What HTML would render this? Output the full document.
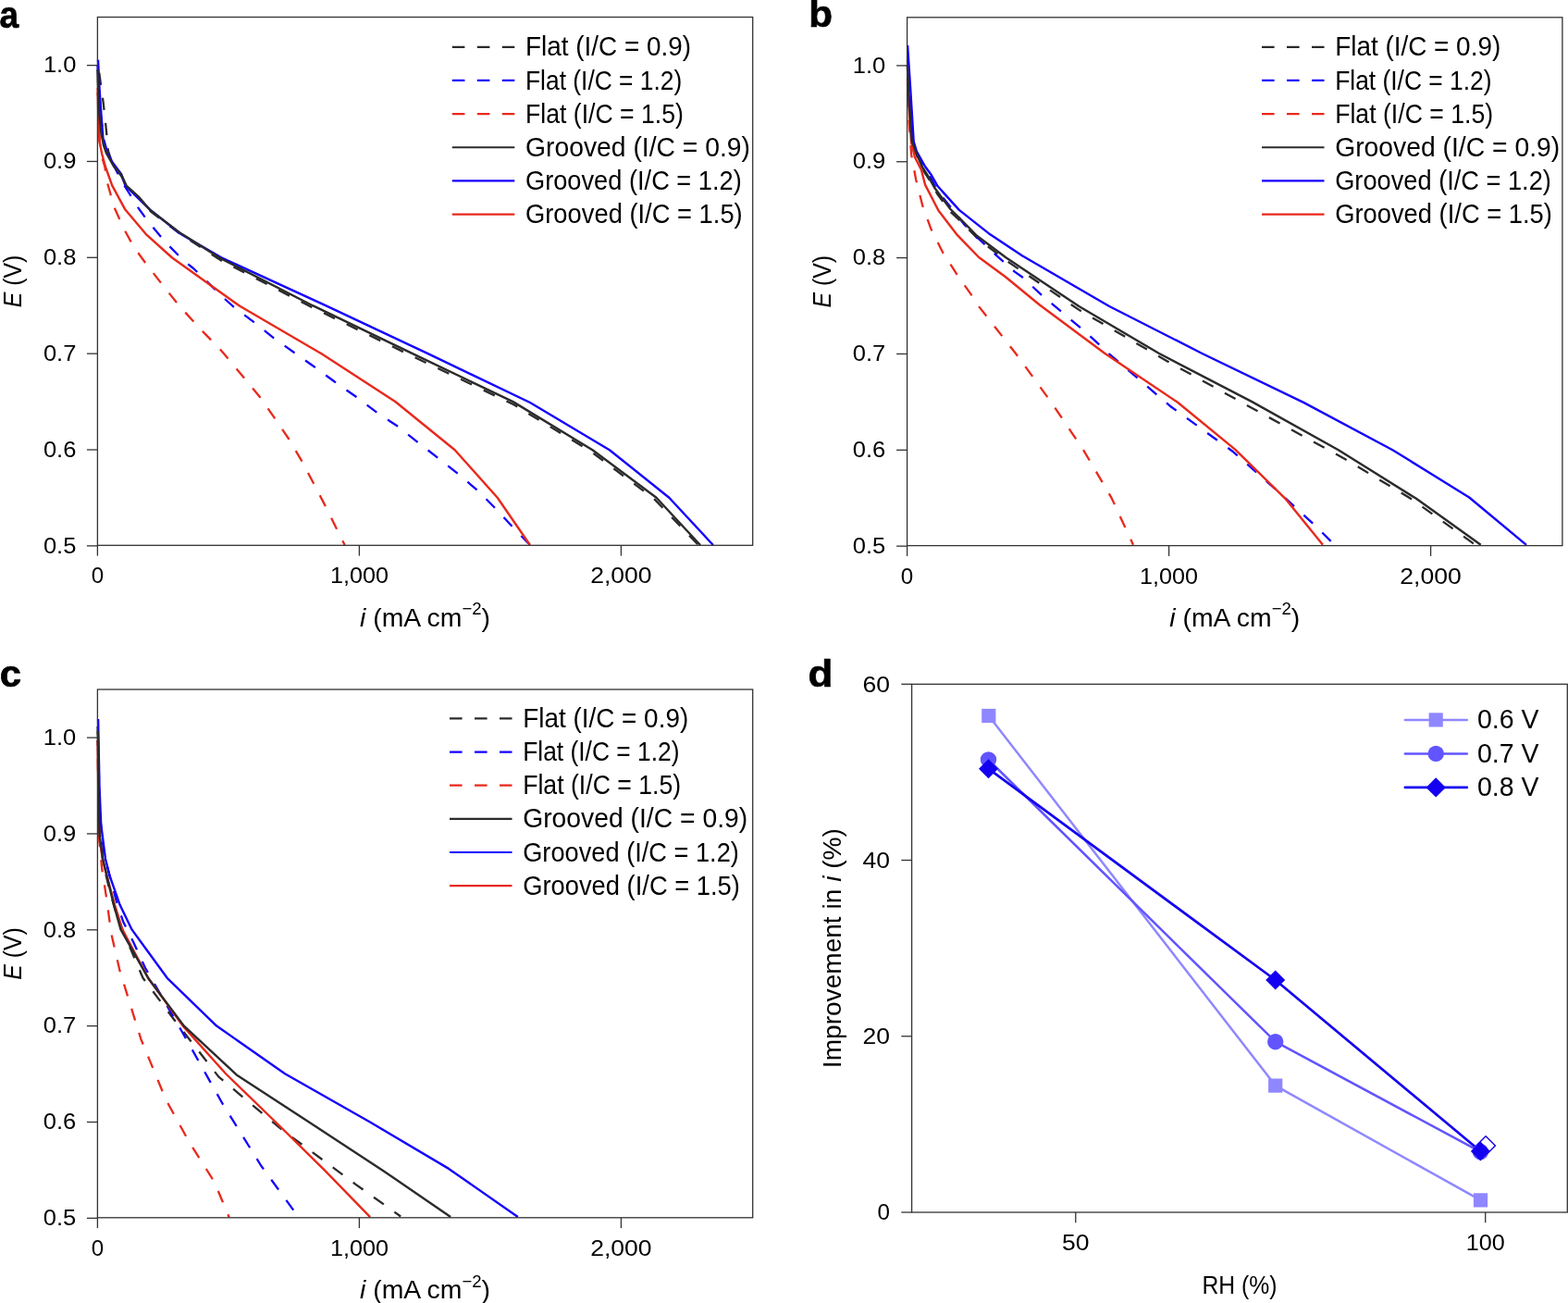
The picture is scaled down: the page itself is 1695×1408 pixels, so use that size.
<!DOCTYPE html>
<html><head><meta charset="utf-8"><title>Figure</title><style>html,body{margin:0;padding:0;background:#fff;}svg{display:block;}</style></head><body>
<svg width="1695" height="1408" viewBox="0 0 1695 1408" font-family="'Liberation Sans', Arial, sans-serif" fill="#000">
<rect width="1695" height="1408" fill="#fff"/>
<polyline points="105.60,66.00 108.50,88.00 111.80,112.00 114.50,137.00 117.00,163.00 122.00,178.00 131.00,190.00 137.00,201.00 150.00,213.50 163.00,228.50 195.00,253.00 240.00,282.00 337.00,332.00 447.00,385.50 555.00,437.00 639.00,488.00 707.00,539.00 755.00,589.00" fill="none" stroke="#2b2b2b" stroke-width="2.3" stroke-linejoin="round" stroke-dasharray="13.3 14.1" stroke-dashoffset="14.67"/>
<polyline points="105.50,70.00 107.00,100.00 109.00,125.00 112.00,150.00 117.00,168.00 125.00,183.00 133.00,198.30 140.10,209.50 147.80,222.40 155.50,233.00 164.30,244.30 173.20,254.90 182.60,265.50 192.00,275.00 202.00,284.40 209.10,290.00 242.30,322.40 251.90,331.00 274.20,347.90 295.40,364.90 317.70,380.80 337.90,395.00 362.10,412.80 385.00,428.80 407.40,445.70 430.40,461.00 451.80,478.00 473.30,494.80 494.80,511.70 516.30,530.00 536.20,550.00 554.60,570.00 573.00,589.00" fill="none" stroke="#1400ff" stroke-width="2.3" stroke-linejoin="round" stroke-dasharray="13.3 14.1" stroke-dashoffset="1.02"/>
<polyline points="105.60,95.00 106.50,130.00 108.00,155.00 110.00,169.00 113.50,181.00 115.30,195.00 119.00,208.00 123.00,223.00 128.30,234.80 134.20,247.80 140.70,259.60 148.40,272.00 156.60,283.20 175.00,307.00 193.50,330.20 218.00,357.00 238.00,377.40 264.00,408.40 281.30,429.60 296.80,451.70 312.30,474.50 326.20,498.20 339.20,522.70 351.50,546.40 363.70,570.90 372.70,589.00" fill="none" stroke="#e8291c" stroke-width="2.3" stroke-linejoin="round" stroke-dasharray="13.3 14.1" stroke-dashoffset="5.15"/>
<polyline points="105.70,100.00 106.50,134.00 107.40,152.30 110.20,166.20 113.90,180.00 121.20,200.40 135.40,226.60 157.80,253.10 186.10,278.50 259.30,330.80 348.00,382.50 427.30,434.00 491.70,486.20 537.70,537.70 573.00,589.00" fill="none" stroke="#e8291c" stroke-width="2.4" stroke-linejoin="round"/>
<polyline points="106.00,64.60 107.50,95.00 109.50,125.00 111.50,150.00 114.50,163.00 122.00,176.00 131.00,188.00 135.40,200.40 147.00,212.00 162.00,226.40 194.40,252.30 239.20,278.30 352.00,330.20 462.60,382.20 573.00,435.00 658.90,486.20 723.30,537.70 770.90,589.00" fill="none" stroke="#1400ff" stroke-width="2.4" stroke-linejoin="round"/>
<polyline points="105.50,75.00 105.80,88.00 107.40,124.60 109.20,143.00 112.00,157.00 115.20,166.00 123.10,180.00 131.40,189.30 136.60,200.60 149.60,212.40 162.50,227.20 194.40,251.40 238.00,279.00 338.00,330.20 446.00,382.20 554.60,434.10 640.50,486.20 709.50,537.70 757.00,589.00" fill="none" stroke="#2b2b2b" stroke-width="2.4" stroke-linejoin="round"/>
<rect x="105.40" y="18.50" width="708.30" height="570.80" fill="none" stroke="#333" stroke-width="1.3"/>
<line x1="93.90" y1="70.60" x2="105.40" y2="70.60" stroke="#333" stroke-width="1.3"/>
<text x="82.40" y="78.30" font-size="24.2" text-anchor="end" textLength="35.50" lengthAdjust="spacingAndGlyphs">1.0</text>
<line x1="93.90" y1="174.45" x2="105.40" y2="174.45" stroke="#333" stroke-width="1.3"/>
<text x="82.40" y="182.15" font-size="24.2" text-anchor="end" textLength="35.50" lengthAdjust="spacingAndGlyphs">0.9</text>
<line x1="93.90" y1="278.30" x2="105.40" y2="278.30" stroke="#333" stroke-width="1.3"/>
<text x="82.40" y="286.00" font-size="24.2" text-anchor="end" textLength="35.50" lengthAdjust="spacingAndGlyphs">0.8</text>
<line x1="93.90" y1="382.15" x2="105.40" y2="382.15" stroke="#333" stroke-width="1.3"/>
<text x="82.40" y="389.85" font-size="24.2" text-anchor="end" textLength="35.50" lengthAdjust="spacingAndGlyphs">0.7</text>
<line x1="93.90" y1="486.00" x2="105.40" y2="486.00" stroke="#333" stroke-width="1.3"/>
<text x="82.40" y="493.70" font-size="24.2" text-anchor="end" textLength="35.50" lengthAdjust="spacingAndGlyphs">0.6</text>
<line x1="93.90" y1="589.85" x2="105.40" y2="589.85" stroke="#333" stroke-width="1.3"/>
<text x="82.40" y="597.55" font-size="24.2" text-anchor="end" textLength="35.50" lengthAdjust="spacingAndGlyphs">0.5</text>
<line x1="105.40" y1="589.30" x2="105.40" y2="600.60" stroke="#333" stroke-width="1.3"/>
<text x="105.40" y="630.30" font-size="24.2" text-anchor="middle">0</text>
<line x1="388.40" y1="589.30" x2="388.40" y2="600.60" stroke="#333" stroke-width="1.3"/>
<text x="388.40" y="630.30" font-size="24.2" text-anchor="middle" textLength="63.00" lengthAdjust="spacingAndGlyphs">1,000</text>
<line x1="671.40" y1="589.30" x2="671.40" y2="600.60" stroke="#333" stroke-width="1.3"/>
<text x="671.40" y="630.30" font-size="24.2" text-anchor="middle" textLength="66.50" lengthAdjust="spacingAndGlyphs">2,000</text>
<text x="459.55" y="676.60" font-size="28.3" text-anchor="middle" textLength="141" lengthAdjust="spacingAndGlyphs"><tspan font-style="italic">i</tspan> (mA cm<tspan dy="-12.4" font-size="18.5">−2</tspan><tspan dy="12.4">)</tspan></text>
<text x="23.40" y="303.90" font-size="28.3" text-anchor="middle" transform="rotate(-90 23.40 303.90)" textLength="56.5" lengthAdjust="spacingAndGlyphs"><tspan font-style="italic">E</tspan> (V)</text>
<line x1="488.80" y1="50.80" x2="556.30" y2="50.80" stroke="#2b2b2b" stroke-width="2.2" stroke-dasharray="13.6 13.4"/>
<text x="568.00" y="60.40" font-size="28.8" textLength="179.00" lengthAdjust="spacingAndGlyphs">Flat (I/C = 0.9)</text>
<line x1="488.80" y1="86.95" x2="556.30" y2="86.95" stroke="#1400ff" stroke-width="2.2" stroke-dasharray="13.6 13.4"/>
<text x="568.00" y="96.55" font-size="28.8" textLength="169.30" lengthAdjust="spacingAndGlyphs">Flat (I/C = 1.2)</text>
<line x1="488.80" y1="123.10" x2="556.30" y2="123.10" stroke="#e8291c" stroke-width="2.2" stroke-dasharray="13.6 13.4"/>
<text x="568.00" y="132.70" font-size="28.8" textLength="170.90" lengthAdjust="spacingAndGlyphs">Flat (I/C = 1.5)</text>
<line x1="488.80" y1="159.25" x2="556.30" y2="159.25" stroke="#2b2b2b" stroke-width="2.2"/>
<text x="568.00" y="168.85" font-size="28.8" textLength="243.00" lengthAdjust="spacingAndGlyphs">Grooved (I/C = 0.9)</text>
<line x1="488.80" y1="195.40" x2="556.30" y2="195.40" stroke="#1400ff" stroke-width="2.2"/>
<text x="568.00" y="205.00" font-size="28.8" textLength="233.70" lengthAdjust="spacingAndGlyphs">Grooved (I/C = 1.2)</text>
<line x1="488.80" y1="231.55" x2="556.30" y2="231.55" stroke="#e8291c" stroke-width="2.2"/>
<text x="568.00" y="241.15" font-size="28.8" textLength="234.70" lengthAdjust="spacingAndGlyphs">Grooved (I/C = 1.5)</text>
<text x="-0.60" y="29.90" font-size="40" font-weight="bold" textLength="20.60" lengthAdjust="spacingAndGlyphs" stroke="#000" stroke-width="0.7">a</text>
<polyline points="980.80,62.00 982.60,104.00 985.50,150.00 990.00,165.00 996.00,181.00 1005.00,195.00 1013.50,210.00 1027.50,229.00 1040.00,240.50 1057.00,258.00 1087.90,281.70 1167.60,335.60 1262.50,390.70 1360.00,444.60 1455.20,496.70 1526.40,539.60 1594.50,588.50" fill="none" stroke="#2b2b2b" stroke-width="2.3" stroke-linejoin="round" stroke-dasharray="13.3 14.1" stroke-dashoffset="13.18"/>
<polyline points="981.00,65.00 983.00,110.00 986.50,150.00 991.00,166.00 998.00,180.00 1005.20,190.20 1011.20,202.20 1019.70,214.10 1027.40,223.50 1042.70,243.00 1056.30,256.70 1066.60,266.10 1076.40,275.40 1086.20,284.00 1096.80,293.60 1104.90,299.30 1127.70,320.40 1171.10,356.70 1199.20,382.50 1264.80,438.70 1332.80,488.00 1381.90,531.30 1423.80,570.00 1442.60,588.80" fill="none" stroke="#1400ff" stroke-width="2.3" stroke-linejoin="round" stroke-dasharray="13.3 14.1" stroke-dashoffset="7.04"/>
<polyline points="981.00,85.00 982.50,130.00 985.20,167.40 990.30,194.70 997.20,222.00 1006.50,247.60 1019.30,273.10 1034.70,297.00 1050.40,319.20 1057.40,330.20 1098.40,382.50 1136.00,434.10 1171.00,486.00 1201.50,537.90 1225.00,588.70" fill="none" stroke="#e8291c" stroke-width="2.3" stroke-linejoin="round" stroke-dasharray="13.3 14.1" stroke-dashoffset="9.96"/>
<polyline points="981.30,73.00 982.50,115.00 985.10,154.00 989.00,170.00 995.90,183.40 1000.10,199.60 1014.60,227.70 1034.20,253.30 1058.10,278.00 1087.00,299.30 1124.20,329.80 1194.50,382.00 1273.00,434.80 1335.10,485.60 1389.20,538.60 1430.00,588.80" fill="none" stroke="#e8291c" stroke-width="2.4" stroke-linejoin="round"/>
<polyline points="981.10,49.00 984.00,93.30 987.70,153.00 990.90,163.70 1000.10,180.00 1006.90,189.30 1013.70,201.30 1036.80,226.90 1069.10,252.40 1104.90,276.30 1199.20,331.00 1300.00,382.20 1409.10,434.90 1505.40,486.20 1588.20,537.50 1650.00,588.80" fill="none" stroke="#1400ff" stroke-width="2.4" stroke-linejoin="round"/>
<polyline points="980.80,70.00 982.40,104.00 985.60,152.00 989.90,163.70 996.70,180.00 1002.70,189.30 1010.30,203.00 1027.40,226.00 1037.60,236.20 1056.30,255.00 1087.00,278.00 1104.90,289.90 1166.40,331.00 1253.10,382.00 1353.40,434.10 1446.80,486.20 1530.60,538.60 1600.70,588.80" fill="none" stroke="#2b2b2b" stroke-width="2.4" stroke-linejoin="round"/>
<rect x="980.60" y="18.80" width="708.30" height="570.80" fill="none" stroke="#333" stroke-width="1.3"/>
<line x1="969.10" y1="70.90" x2="980.60" y2="70.90" stroke="#333" stroke-width="1.3"/>
<text x="957.30" y="78.60" font-size="24.2" text-anchor="end" textLength="35.50" lengthAdjust="spacingAndGlyphs">1.0</text>
<line x1="969.10" y1="174.75" x2="980.60" y2="174.75" stroke="#333" stroke-width="1.3"/>
<text x="957.30" y="182.45" font-size="24.2" text-anchor="end" textLength="35.50" lengthAdjust="spacingAndGlyphs">0.9</text>
<line x1="969.10" y1="278.60" x2="980.60" y2="278.60" stroke="#333" stroke-width="1.3"/>
<text x="957.30" y="286.30" font-size="24.2" text-anchor="end" textLength="35.50" lengthAdjust="spacingAndGlyphs">0.8</text>
<line x1="969.10" y1="382.45" x2="980.60" y2="382.45" stroke="#333" stroke-width="1.3"/>
<text x="957.30" y="390.15" font-size="24.2" text-anchor="end" textLength="35.50" lengthAdjust="spacingAndGlyphs">0.7</text>
<line x1="969.10" y1="486.30" x2="980.60" y2="486.30" stroke="#333" stroke-width="1.3"/>
<text x="957.30" y="494.00" font-size="24.2" text-anchor="end" textLength="35.50" lengthAdjust="spacingAndGlyphs">0.6</text>
<line x1="969.10" y1="590.15" x2="980.60" y2="590.15" stroke="#333" stroke-width="1.3"/>
<text x="957.30" y="597.85" font-size="24.2" text-anchor="end" textLength="35.50" lengthAdjust="spacingAndGlyphs">0.5</text>
<line x1="980.60" y1="589.60" x2="980.60" y2="600.90" stroke="#333" stroke-width="1.3"/>
<text x="980.60" y="630.60" font-size="24.2" text-anchor="middle">0</text>
<line x1="1263.60" y1="589.60" x2="1263.60" y2="600.90" stroke="#333" stroke-width="1.3"/>
<text x="1263.60" y="630.60" font-size="24.2" text-anchor="middle" textLength="63.00" lengthAdjust="spacingAndGlyphs">1,000</text>
<line x1="1546.60" y1="589.60" x2="1546.60" y2="600.90" stroke="#333" stroke-width="1.3"/>
<text x="1546.60" y="630.60" font-size="24.2" text-anchor="middle" textLength="66.50" lengthAdjust="spacingAndGlyphs">2,000</text>
<text x="1334.75" y="676.60" font-size="28.3" text-anchor="middle" textLength="141" lengthAdjust="spacingAndGlyphs"><tspan font-style="italic">i</tspan> (mA cm<tspan dy="-12.4" font-size="18.5">−2</tspan><tspan dy="12.4">)</tspan></text>
<text x="898.10" y="304.20" font-size="28.3" text-anchor="middle" transform="rotate(-90 898.10 304.20)" textLength="56.5" lengthAdjust="spacingAndGlyphs"><tspan font-style="italic">E</tspan> (V)</text>
<line x1="1364.00" y1="50.80" x2="1431.50" y2="50.80" stroke="#2b2b2b" stroke-width="2.2" stroke-dasharray="13.6 13.4"/>
<text x="1443.20" y="60.40" font-size="28.8" textLength="179.00" lengthAdjust="spacingAndGlyphs">Flat (I/C = 0.9)</text>
<line x1="1364.00" y1="86.95" x2="1431.50" y2="86.95" stroke="#1400ff" stroke-width="2.2" stroke-dasharray="13.6 13.4"/>
<text x="1443.20" y="96.55" font-size="28.8" textLength="169.30" lengthAdjust="spacingAndGlyphs">Flat (I/C = 1.2)</text>
<line x1="1364.00" y1="123.10" x2="1431.50" y2="123.10" stroke="#e8291c" stroke-width="2.2" stroke-dasharray="13.6 13.4"/>
<text x="1443.20" y="132.70" font-size="28.8" textLength="170.90" lengthAdjust="spacingAndGlyphs">Flat (I/C = 1.5)</text>
<line x1="1364.00" y1="159.25" x2="1431.50" y2="159.25" stroke="#2b2b2b" stroke-width="2.2"/>
<text x="1443.20" y="168.85" font-size="28.8" textLength="243.00" lengthAdjust="spacingAndGlyphs">Grooved (I/C = 0.9)</text>
<line x1="1364.00" y1="195.40" x2="1431.50" y2="195.40" stroke="#1400ff" stroke-width="2.2"/>
<text x="1443.20" y="205.00" font-size="28.8" textLength="233.70" lengthAdjust="spacingAndGlyphs">Grooved (I/C = 1.2)</text>
<line x1="1364.00" y1="231.55" x2="1431.50" y2="231.55" stroke="#e8291c" stroke-width="2.2"/>
<text x="1443.20" y="241.15" font-size="28.8" textLength="234.70" lengthAdjust="spacingAndGlyphs">Grooved (I/C = 1.5)</text>
<text x="874.20" y="28.90" font-size="40" font-weight="bold" textLength="25.80" lengthAdjust="spacingAndGlyphs" stroke="#000" stroke-width="0.7">b</text>
<polyline points="105.60,785.00 107.00,870.00 108.50,910.00 112.00,935.00 118.00,960.00 125.00,985.00 133.00,1006.00 154.50,1056.80 188.60,1102.30 236.40,1163.60 304.50,1220.50 384.50,1279.80 433.20,1314.50" fill="none" stroke="#2b2b2b" stroke-width="2.3" stroke-linejoin="round" stroke-dasharray="13.3 14.1" stroke-dashoffset="3.73"/>
<polyline points="105.70,790.00 108.00,880.00 112.00,920.00 116.60,938.80 125.90,973.90 133.20,996.00 144.30,1018.20 156.80,1045.50 200.00,1120.50 240.90,1193.20 281.80,1259.00 318.20,1309.00 322.00,1315.00" fill="none" stroke="#1400ff" stroke-width="2.3" stroke-linejoin="round" stroke-dasharray="13.3 14.1" stroke-dashoffset="17.12"/>
<polyline points="105.60,800.00 106.50,880.00 107.40,909.30 110.20,938.80 114.80,968.40 120.30,1009.00 129.50,1048.90 152.30,1122.70 179.50,1188.60 204.50,1234.00 231.80,1277.30 247.70,1315.50" fill="none" stroke="#e8291c" stroke-width="2.3" stroke-linejoin="round" stroke-dasharray="13.3 14.1" stroke-dashoffset="7.72"/>
<polyline points="105.60,800.00 106.50,870.00 107.40,905.00 111.10,930.00 118.50,957.30 124.00,977.60 132.30,1004.40 160.20,1056.80 197.70,1108.60 244.30,1160.50 298.00,1212.50 350.00,1263.60 400.10,1315.10" fill="none" stroke="#e8291c" stroke-width="2.4" stroke-linejoin="round"/>
<polyline points="106.10,777.00 107.50,850.00 109.20,890.80 113.90,927.70 118.50,946.20 129.50,977.60 142.50,1004.40 180.70,1056.80 234.10,1108.60 308.00,1160.20 400.00,1212.50 485.10,1262.90 559.80,1315.10" fill="none" stroke="#1400ff" stroke-width="2.4" stroke-linejoin="round"/>
<polyline points="105.80,790.00 107.00,860.00 107.40,900.00 111.10,927.70 118.00,957.30 123.00,977.60 130.50,1004.40 160.50,1057.50 198.90,1108.60 255.70,1161.40 334.00,1212.50 413.30,1264.40 487.10,1315.10" fill="none" stroke="#2b2b2b" stroke-width="2.4" stroke-linejoin="round"/>
<rect x="105.40" y="745.00" width="708.30" height="570.80" fill="none" stroke="#333" stroke-width="1.3"/>
<line x1="93.90" y1="797.10" x2="105.40" y2="797.10" stroke="#333" stroke-width="1.3"/>
<text x="82.20" y="804.80" font-size="24.2" text-anchor="end" textLength="35.50" lengthAdjust="spacingAndGlyphs">1.0</text>
<line x1="93.90" y1="900.95" x2="105.40" y2="900.95" stroke="#333" stroke-width="1.3"/>
<text x="82.20" y="908.65" font-size="24.2" text-anchor="end" textLength="35.50" lengthAdjust="spacingAndGlyphs">0.9</text>
<line x1="93.90" y1="1004.80" x2="105.40" y2="1004.80" stroke="#333" stroke-width="1.3"/>
<text x="82.20" y="1012.50" font-size="24.2" text-anchor="end" textLength="35.50" lengthAdjust="spacingAndGlyphs">0.8</text>
<line x1="93.90" y1="1108.65" x2="105.40" y2="1108.65" stroke="#333" stroke-width="1.3"/>
<text x="82.20" y="1116.35" font-size="24.2" text-anchor="end" textLength="35.50" lengthAdjust="spacingAndGlyphs">0.7</text>
<line x1="93.90" y1="1212.50" x2="105.40" y2="1212.50" stroke="#333" stroke-width="1.3"/>
<text x="82.20" y="1220.20" font-size="24.2" text-anchor="end" textLength="35.50" lengthAdjust="spacingAndGlyphs">0.6</text>
<line x1="93.90" y1="1316.35" x2="105.40" y2="1316.35" stroke="#333" stroke-width="1.3"/>
<text x="82.20" y="1324.05" font-size="24.2" text-anchor="end" textLength="35.50" lengthAdjust="spacingAndGlyphs">0.5</text>
<line x1="105.40" y1="1315.80" x2="105.40" y2="1327.10" stroke="#333" stroke-width="1.3"/>
<text x="105.40" y="1356.80" font-size="24.2" text-anchor="middle">0</text>
<line x1="388.40" y1="1315.80" x2="388.40" y2="1327.10" stroke="#333" stroke-width="1.3"/>
<text x="388.40" y="1356.80" font-size="24.2" text-anchor="middle" textLength="63.00" lengthAdjust="spacingAndGlyphs">1,000</text>
<line x1="671.40" y1="1315.80" x2="671.40" y2="1327.10" stroke="#333" stroke-width="1.3"/>
<text x="671.40" y="1356.80" font-size="24.2" text-anchor="middle" textLength="66.50" lengthAdjust="spacingAndGlyphs">2,000</text>
<text x="459.55" y="1403.10" font-size="28.3" text-anchor="middle" textLength="141" lengthAdjust="spacingAndGlyphs"><tspan font-style="italic">i</tspan> (mA cm<tspan dy="-12.4" font-size="18.5">−2</tspan><tspan dy="12.4">)</tspan></text>
<text x="23.40" y="1030.40" font-size="28.3" text-anchor="middle" transform="rotate(-90 23.40 1030.40)" textLength="56.5" lengthAdjust="spacingAndGlyphs"><tspan font-style="italic">E</tspan> (V)</text>
<line x1="486.00" y1="776.40" x2="553.50" y2="776.40" stroke="#2b2b2b" stroke-width="2.2" stroke-dasharray="13.6 13.4"/>
<text x="565.20" y="786.00" font-size="28.8" textLength="179.00" lengthAdjust="spacingAndGlyphs">Flat (I/C = 0.9)</text>
<line x1="486.00" y1="812.55" x2="553.50" y2="812.55" stroke="#1400ff" stroke-width="2.2" stroke-dasharray="13.6 13.4"/>
<text x="565.20" y="822.15" font-size="28.8" textLength="169.30" lengthAdjust="spacingAndGlyphs">Flat (I/C = 1.2)</text>
<line x1="486.00" y1="848.70" x2="553.50" y2="848.70" stroke="#e8291c" stroke-width="2.2" stroke-dasharray="13.6 13.4"/>
<text x="565.20" y="858.30" font-size="28.8" textLength="170.90" lengthAdjust="spacingAndGlyphs">Flat (I/C = 1.5)</text>
<line x1="486.00" y1="884.85" x2="553.50" y2="884.85" stroke="#2b2b2b" stroke-width="2.2"/>
<text x="565.20" y="894.45" font-size="28.8" textLength="243.00" lengthAdjust="spacingAndGlyphs">Grooved (I/C = 0.9)</text>
<line x1="486.00" y1="921.00" x2="553.50" y2="921.00" stroke="#1400ff" stroke-width="2.2"/>
<text x="565.20" y="930.60" font-size="28.8" textLength="233.70" lengthAdjust="spacingAndGlyphs">Grooved (I/C = 1.2)</text>
<line x1="486.00" y1="957.15" x2="553.50" y2="957.15" stroke="#e8291c" stroke-width="2.2"/>
<text x="565.20" y="966.75" font-size="28.8" textLength="234.70" lengthAdjust="spacingAndGlyphs">Grooved (I/C = 1.5)</text>
<text x="-0.20" y="742.00" font-size="40" font-weight="bold" textLength="23.20" lengthAdjust="spacingAndGlyphs" stroke="#000" stroke-width="0.7">c</text>
<polyline points="1068.80,773.50 1378.70,1173.10 1600.50,1296.90" fill="none" stroke="#8f87ff" stroke-width="2.5" stroke-linejoin="round"/>
<polyline points="1068.50,821.00 1378.70,1125.70 1600.40,1244.70" fill="none" stroke="#6254ff" stroke-width="2.5" stroke-linejoin="round"/>
<polyline points="1068.50,830.70 1378.70,1059.00 1600.40,1244.00" fill="none" stroke="#1400f0" stroke-width="2.7" stroke-linejoin="round"/>
<polygon points="1606.1,1227.7 1616.3999999999999,1238 1606.1,1248.3 1595.8,1238" fill="#fff" stroke="#1400f0" stroke-width="1.4"/>
<rect x="1061.20" y="765.90" width="15.2" height="15.2" fill="#8f87ff"/>
<rect x="1371.10" y="1165.50" width="15.2" height="15.2" fill="#8f87ff"/>
<rect x="1592.90" y="1289.30" width="15.2" height="15.2" fill="#8f87ff"/>
<circle cx="1068.50" cy="821.00" r="8.7" fill="#6254ff"/>
<circle cx="1378.70" cy="1125.70" r="8.7" fill="#6254ff"/>
<circle cx="1600.40" cy="1244.70" r="8.7" fill="#6254ff"/>
<polygon points="1068.50,820.20 1079.00,830.70 1068.50,841.20 1058.00,830.70" fill="#1400f0"/>
<polygon points="1378.70,1048.50 1389.20,1059.00 1378.70,1069.50 1368.20,1059.00" fill="#1400f0"/>
<polygon points="1600.40,1233.50 1610.90,1244.00 1600.40,1254.50 1589.90,1244.00" fill="#1400f0"/>
<rect x="985.6" y="739.3" width="708.70" height="570.70" fill="none" stroke="#333" stroke-width="1.3"/>
<line x1="974.30" y1="1310.00" x2="985.60" y2="1310.00" stroke="#333" stroke-width="1.3"/>
<text x="962.00" y="1318.30" font-size="24.2" text-anchor="end">0</text>
<line x1="974.30" y1="1119.77" x2="985.60" y2="1119.77" stroke="#333" stroke-width="1.3"/>
<text x="962.00" y="1128.07" font-size="24.2" text-anchor="end" textLength="29.50" lengthAdjust="spacingAndGlyphs">20</text>
<line x1="974.30" y1="929.53" x2="985.60" y2="929.53" stroke="#333" stroke-width="1.3"/>
<text x="962.00" y="937.83" font-size="24.2" text-anchor="end" textLength="29.50" lengthAdjust="spacingAndGlyphs">40</text>
<line x1="974.30" y1="739.30" x2="985.60" y2="739.30" stroke="#333" stroke-width="1.3"/>
<text x="962.00" y="747.60" font-size="24.2" text-anchor="end" textLength="29.50" lengthAdjust="spacingAndGlyphs">60</text>
<line x1="1162.78" y1="1310.00" x2="1162.78" y2="1321.30" stroke="#333" stroke-width="1.3"/>
<text x="1162.78" y="1351.00" font-size="24.2" text-anchor="middle" textLength="29.50" lengthAdjust="spacingAndGlyphs">50</text>
<line x1="1605.71" y1="1310.00" x2="1605.71" y2="1321.30" stroke="#333" stroke-width="1.3"/>
<text x="1605.71" y="1351.00" font-size="24.2" text-anchor="middle" textLength="42.00" lengthAdjust="spacingAndGlyphs">100</text>
<text x="1339.95" y="1397.9" font-size="28.3" text-anchor="middle" textLength="81" lengthAdjust="spacingAndGlyphs">RH (%)</text>
<text x="909.1" y="1024.65" font-size="28.3" text-anchor="middle" transform="rotate(-90 909.1 1024.65)" textLength="259" lengthAdjust="spacingAndGlyphs">Improvement in <tspan font-style="italic">i</tspan> (%)</text>
<line x1="1518.90" y1="777.90" x2="1585.80" y2="777.90" stroke="#8f87ff" stroke-width="2.5" stroke-linecap="round"/>
<rect x="1544.60" y="770.30" width="15.2" height="15.2" fill="#8f87ff"/>
<text x="1597.00" y="787.30" font-size="28.8" textLength="66.50" lengthAdjust="spacingAndGlyphs">0.6 V</text>
<line x1="1518.90" y1="814.40" x2="1585.80" y2="814.40" stroke="#6254ff" stroke-width="2.5" stroke-linecap="round"/>
<circle cx="1552.20" cy="814.40" r="8.7" fill="#6254ff"/>
<text x="1597.00" y="823.80" font-size="28.8" textLength="66.50" lengthAdjust="spacingAndGlyphs">0.7 V</text>
<line x1="1518.90" y1="850.90" x2="1585.80" y2="850.90" stroke="#1400f0" stroke-width="2.7" stroke-linecap="round"/>
<polygon points="1552.20,840.20 1562.90,850.90 1552.20,861.60 1541.50,850.90" fill="#1400f0"/>
<text x="1597.00" y="860.30" font-size="28.8" textLength="66.50" lengthAdjust="spacingAndGlyphs">0.8 V</text>
<text x="873.60" y="741.60" font-size="40" font-weight="bold" textLength="26.80" lengthAdjust="spacingAndGlyphs" stroke="#000" stroke-width="0.7">d</text>
</svg>
</body></html>
